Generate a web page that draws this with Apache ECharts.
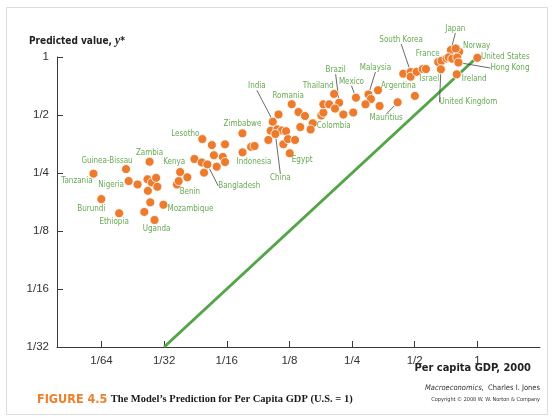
<!DOCTYPE html>
<html>
<head>
<meta charset="utf-8">
<script src="https://cdn.jsdelivr.net/npm/echarts@6/dist/echarts.min.js"></script>
<style>
  html, body { margin: 0; padding: 0; background: #fff; }
  #chart { width: 553px; height: 418px; }
</style>
</head>
<body>
<div id="chart"></div>
<script>
// Per capita GDP in 2000 and the model's predicted value y*, both relative to the U.S. (= 1)
const countries = [
  'Tanzania', 'Guinea-Bissau', 'Zambia', 'Nigeria', '', '', '', '', '', '',
  'Burundi', '', 'Mozambique', 'Ethiopia', '', 'Uganda', 'Kenya', '', 'Benin', '',
  'Lesotho', '', '', '', '', 'Bangladesh', '', '', '', '',
  '', 'Zimbabwe', 'Indonesia', '', '', '', '', '', '', 'India',
  '', '', 'China', '', '', '', 'Egypt', 'Romania', '', '',
  '', 'Colombia', '', '', '', '', '', 'Thailand', 'Brazil', '',
  '', '', 'Mexico', 'Malaysia', '', '', 'Argentina', '', 'Mauritius', '',
  '', 'South Korea', '', '', '', 'Israel', 'France', '', '', 'Japan',
  'Norway', '', '', '', '', 'Hong Kong', 'United Kingdom', 'Ireland', 'United States'
];

const gdp = [
  0.0143, 0.0205, 0.0266, 0.0211, 0.0233, 0.0260, 0.0273, 0.0286, 0.0290, 0.0261,
  0.0156, 0.0268, 0.0310, 0.0190, 0.0251, 0.0281, 0.0373, 0.0404, 0.0360, 0.0367,
  0.0477, 0.0530, 0.0613, 0.0437, 0.0474, 0.0504, 0.0542, 0.0598, 0.0613, 0.0559,
  0.0486, 0.0743, 0.0744, 0.0818, 0.0850, 0.0990, 0.1016, 0.1040, 0.1108, 0.1094,
  0.1151, 0.1204, 0.1070, 0.1169, 0.1231, 0.1330, 0.1254, 0.1282, 0.1382, 0.1485,
  0.1410, 0.1618, 0.1580, 0.1780, 0.1820, 0.1820, 0.1940, 0.2050, 0.2167, 0.2070,
  0.2270, 0.2533, 0.2610, 0.2997, 0.3080, 0.2900, 0.3330, 0.3390, 0.4140, 0.5010,
  0.4405, 0.4780, 0.4780, 0.5110, 0.5460, 0.5660, 0.6480, 0.6730, 0.7120, 0.7460,
  0.8180, 0.7870, 0.7280, 0.7570, 0.8000, 0.8110, 0.6680, 0.7960, 1.0000
];

const predicted = [
  0.248, 0.262, 0.286, 0.227, 0.218, 0.232, 0.223, 0.236, 0.212, 0.202,
  0.183, 0.176, 0.171, 0.1545, 0.157, 0.1426, 0.253, 0.2375, 0.218, 0.227,
  0.375, 0.349, 0.352, 0.2955, 0.2835, 0.277, 0.309, 0.303, 0.285, 0.2695,
  0.251, 0.4015, 0.320, 0.342, 0.345, 0.371, 0.4145, 0.4615, 0.503, 0.4215,
  0.4155, 0.412, 0.3985, 0.3525, 0.375, 0.371, 0.3165, 0.569, 0.518, 0.494,
  0.433, 0.453, 0.4205, 0.497, 0.514, 0.568, 0.568, 0.643, 0.579, 0.540,
  0.503, 0.515, 0.615, 0.639, 0.605, 0.568, 0.672, 0.557, 0.582, 0.628,
  0.819, 0.836, 0.790, 0.838, 0.866, 0.866, 0.942, 0.956, 0.982, 1.087,
  1.065, 1.107, 0.997, 0.980, 0.994, 0.936, 0.863, 0.813, 0.990
];

// 45-degree line: prediction equals actual income
const equalityX = [1 / 32, 1];
const equalityY = [1 / 32, 1];

const xTicks = [1 / 64, 1 / 32, 1 / 16, 1 / 8, 1 / 4, 1 / 2, 1];
const yTicks = [1 / 32, 1 / 16, 1 / 8, 1 / 4, 1 / 2, 1];

// Where each country name sits relative to its dot (px), and whether it gets a leader line
const labelPlacement = {
  'Tanzania': [-16.5, 7.5], 'Guinea-Bissau': [-19, -8.5], 'Zambia': [0, -8.5],
  'Nigeria': [-17.5, 4], 'Kenya': [-6, -10], 'Benin': [13, 7], 'Burundi': [-10, 10],
  'Ethiopia': [-5, 9], 'Uganda': [2, 9], 'Mozambique': [27, 4], 'Lesotho': [-17, -5],
  'Bangladesh': [32, 21.5, true], 'Zimbabwe': [0, -9], 'Indonesia': [11.5, 9.5],
  'India': [-20.5, -43, true], 'China': [5, 44, true], 'Egypt': [12.5, 7],
  'Romania': [-3.5, -8], 'Colombia': [21, 3], 'Thailand': [-16, -8],
  'Brazil': [-3.5, -32.5, true], 'Mexico': [-4.5, -16, true], 'Malaysia': [7, -26.5, true],
  'Argentina': [20.5, -4.5], 'Mauritius': [-11.5, 16, true], 'South Korea': [-9.5, -32, true],
  'Israel': [3.5, 10], 'France': [-10.5, -8.5], 'Japan': [4.5, -21, true],
  'Norway': [17.5, -5.5], 'United States': [28, -1], 'Hong Kong': [51.5, 5.5, true],
  'Ireland': [17.5, 4.5], 'United Kingdom': [27.5, 33, true]
};

const ORANGE = '#ec7b2d';
const GREEN_TEXT = '#66aa52';
const GREEN_LINE = '#53a548';
const LABEL_FONT = '"DejaVu Sans Condensed", "Liberation Sans", sans-serif';

const lg = Math.log2;
function fraction(v) {
  const r = Math.round(v);
  return r === 0 ? '1' : '1/' + Math.pow(2, -r);
}

const points = gdp.map(function (g, i) {
  const name = countries[i];
  const place = labelPlacement[name];
  return {
    name: name,
    value: [lg(g), lg(predicted[i])],
    label: { show: !!name },
    labelLine: { show: !!(place && place[2]) }
  };
});

const chart = echarts.init(document.getElementById('chart'), null, { renderer: 'canvas' });

chart.setOption({
  animation: false,
  grid: { left: 57, right: 13, top: 57, bottom: 71, containLabel: false },
  xAxis: {
    type: 'value',
    min: -6.71,
    max: 1,
    axisLine: { show: true, onZero: false, lineStyle: { color: '#3a3a3a', width: 1 } },
    axisTick: { show: true, inside: true, length: 6, lineStyle: { color: '#3a3a3a' },
      customValues: xTicks.map(lg) },
    axisLabel: { show: true, margin: 8, color: '#333', fontSize: 11.5,
      fontFamily: '"Liberation Sans", sans-serif',
      customValues: xTicks.map(lg), formatter: fraction },
    splitLine: { show: false }
  },
  yAxis: {
    type: 'value',
    min: -5,
    max: 0,
    axisLine: { show: true, onZero: false, lineStyle: { color: '#3a3a3a', width: 1 } },
    axisTick: { show: true, inside: true, length: 6, lineStyle: { color: '#3a3a3a' },
      customValues: yTicks.map(lg) },
    axisLabel: { show: true, margin: 8, color: '#333', fontSize: 11.5,
      fontFamily: '"Liberation Sans", sans-serif',
      customValues: yTicks.map(lg), formatter: fraction },
    splitLine: { show: false }
  },
  series: [
    {
      type: 'line',
      data: equalityX.map(function (x, i) { return [lg(x), lg(equalityY[i])]; }),
      symbol: 'none',
      lineStyle: { color: GREEN_LINE, width: 3 },
      z: 1,
      silent: true
    },
    {
      type: 'scatter',
      data: points,
      symbolSize: 9,
      clip: false,
      itemStyle: { color: ORANGE, borderColor: '#fff', borderWidth: 0.8, opacity: 1 },
      label: {
        position: 'inside',
        formatter: '{b}',
        color: GREEN_TEXT,
        fontSize: 8,
        fontFamily: LABEL_FONT,
        textBorderWidth: 0,
        align: 'center',
        verticalAlign: 'middle'
      },
      labelLine: { show: false, lineStyle: { color: '#444', width: 0.8 } },
      labelLayout: function (p) {
        const place = labelPlacement[countries[p.dataIndex]];
        if (!place) return {};
        return { dx: place[0], dy: place[1] };
      },
      emphasis: { disabled: true },
      z: 3
    }
  ],
  graphic: [
    {
      type: 'rect', silent: true, z: -10,
      shape: { x: 6.5, y: 7.5, width: 541, height: 407 },
      style: { fill: 'none', stroke: '#dcdcdc', lineWidth: 1 }
    },
    {
      type: 'text', left: 29, top: 35,
      style: {
        text: '{b|Predicted value, }{i|y}{b|*}',
        rich: {
          b: { fontSize: 10, fontWeight: 'bold', fill: '#222', fontFamily: '"DejaVu Sans Condensed", "Liberation Sans", sans-serif' },
          i: { fontSize: 11.5, fontWeight: 'bold', fontStyle: 'italic', fill: '#222', fontFamily: '"Liberation Serif", serif' }
        }
      }
    },
    {
      type: 'text', right: 22, top: 363,
      style: {
        text: 'Per capita GDP, 2000',
        fontSize: 11, fontWeight: 'bold', fill: '#222',
        fontFamily: '"DejaVu Sans Condensed", "Liberation Sans", sans-serif'
      }
    },
    {
      type: 'text', left: 37, top: 393,
      style: {
        text: '{o|FIGURE 4.5} {b|The Model\u2019s Prediction for Per Capita GDP (U.S. = 1)}',
        rich: {
          o: { fontSize: 12.5, fontWeight: 'bold', fill: '#f07f2a', fontFamily: '"DejaVu Sans Condensed", "Liberation Sans", sans-serif' },
          b: { fontSize: 10.5, fontWeight: 'bold', fill: '#1a1a1a', fontFamily: '"Liberation Serif", serif' }
        }
      }
    },
    {
      type: 'text', right: 13, top: 384,
      style: {
        text: '{i|Macroeconomics,}{n|  Charles I. Jones}',
        rich: {
          i: { fontSize: 7.5, fontStyle: 'italic', fill: '#333', fontFamily: '"DejaVu Sans Condensed", sans-serif' },
          n: { fontSize: 7.5, fill: '#333', fontFamily: '"DejaVu Sans Condensed", sans-serif' }
        }
      }
    },
    {
      type: 'text', right: 13, top: 397,
      style: {
        text: 'Copyright \u00a9 2008 W. W. Norton & Company',
        fontSize: 5.5, fill: '#333', fontFamily: '"DejaVu Sans Condensed", sans-serif'
      }
    }
  ]
});
</script>
</body>
</html>
